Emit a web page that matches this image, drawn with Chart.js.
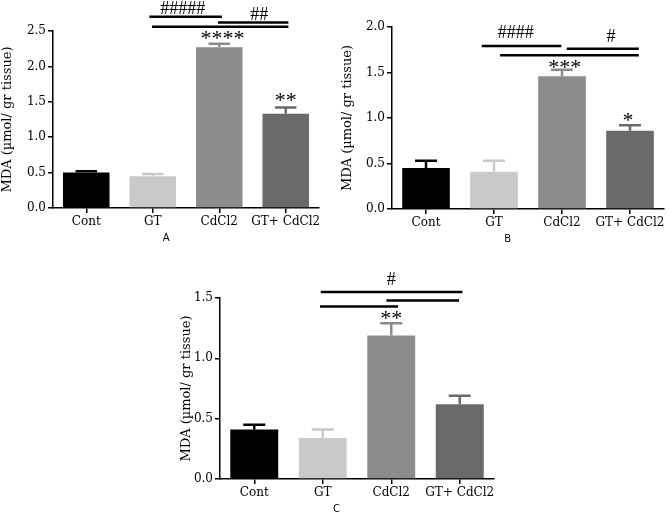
<!DOCTYPE html>
<html>
<head>
<meta charset="utf-8">
<script src="https://cdn.jsdelivr.net/npm/chart.js@4"></script>
<style>
  body { margin: 0; background: #fff; }
  #wrap { position: relative; width: 671px; height: 516px; overflow: hidden; }
  .panel { position: absolute; }
</style>
</head>
<body>
<div id="wrap">
  <div class="panel" style="left:0;top:0;width:335px;height:245px"><canvas id="chartA"></canvas></div>
  <div class="panel" style="left:335px;top:0;width:336px;height:245px"><canvas id="chartB"></canvas></div>
  <div class="panel" style="left:160px;top:250px;width:360px;height:266px"><canvas id="chartC"></canvas></div>
</div>
<script>
var categories = ['Cont', 'GT', 'CdCl2', 'GT+ CdCl2'];
var barColors = ['#000000', '#c9c9c9', '#8c8c8c', '#6a6a6a'];

// panel A
var mdaA = [0.50, 0.45, 2.27, 1.33];
var semA = [0.02, 0.03, 0.05, 0.09];
var ticksA = [0.0, 0.5, 1.0, 1.5, 2.0, 2.5];
// panel B
var mdaB = [0.45, 0.41, 1.46, 0.86];
var semB = [0.08, 0.12, 0.07, 0.06];
var ticksB = [0.0, 0.5, 1.0, 1.5, 2.0];
// panel C
var mdaC = [0.41, 0.34, 1.19, 0.62];
var semC = [0.04, 0.07, 0.10, 0.07];
var ticksC = [0.0, 0.5, 1.0, 1.5];

// significance bars: [from index, to index, value]
var linesA = [[0.95, 2.04, 2.70], [1.98, 3.04, 2.62], [0.99, 3.04, 2.56]];
var linesB = [[0.82, 1.99, 1.79], [2.07, 3.13, 1.76], [1.09, 3.13, 1.69]];
var linesC = [[0.97, 3.04, 1.55], [1.93, 2.99, 1.48], [0.96, 2.10, 1.43]];
// significance marks: [index, value, text]
var marksA = [[1.45, 2.81, '#####'], [2.60, 2.72, '##'], [2.05, 2.44, '****'], [3.0, 1.56, '**']];
var marksB = [[1.32, 1.93, '####'], [2.72, 1.89, '#'], [2.04, 1.59, '***'], [2.97, 1.01, '*']];
var marksC = [[2.0, 1.65, '#'], [2.0, 1.36, '**']];

var serif = 'DejaVu Serif';

var figure = {
	startUp: function () {
		figure.panel('chartA', mdaA, semA, ticksA, linesA, marksA, 'A', { left: 0, top: 31, right: 16, yWidth: 53, xHeight: 37 });
		figure.panel('chartB', mdaB, semB, ticksB, linesB, marksB, 'B', { left: 5, top: 27, right: 7, yWidth: 52, xHeight: 36 });
		figure.panel('chartC', mdaC, semC, ticksC, linesC, marksC, 'C', { left: 19, top: 48, right: 26, yWidth: 41, xHeight: 37 });
	}, // end - startUp

	errorBars: function (sem) {
		return {
			id: 'errorBars',
			afterDatasetsDraw: function (chart) {
				var ctx = chart.ctx;
				var meta = chart.getDatasetMeta(0);
				var y = chart.scales.y;
				var vals = chart.data.datasets[0].data;
				ctx.save();
				ctx.lineWidth = 2.5;
				for (var i = 0; i < meta.data.length; i++) {
					var bar = meta.data[i];
					var top = y.getPixelForValue(vals[i] + sem[i]);
					var half = bar.width * 0.23;
					ctx.strokeStyle = barColors[i];
					ctx.beginPath();
					ctx.moveTo(bar.x, bar.y);
					ctx.lineTo(bar.x, top);
					ctx.moveTo(bar.x - half, top);
					ctx.lineTo(bar.x + half, top);
					ctx.stroke();
				}
				ctx.restore();
			}
		};
	}, // end - errorBars

	sigMarks: function (lines, marks, letter) {
		return {
			id: 'sigMarks',
			afterDraw: function (chart) {
				var ctx = chart.ctx;
				var x = chart.scales.x;
				var y = chart.scales.y;
				ctx.save();
				ctx.strokeStyle = '#000';
				ctx.lineWidth = 2.5;
				for (var i = 0; i < lines.length; i++) {
					var py = y.getPixelForValue(lines[i][2]);
					ctx.beginPath();
					ctx.moveTo(x.getPixelForValue(lines[i][0]), py);
					ctx.lineTo(x.getPixelForValue(lines[i][1]), py);
					ctx.stroke();
				}
				ctx.fillStyle = '#000';
				ctx.textAlign = 'center';
				ctx.textBaseline = 'middle';
				for (var j = 0; j < marks.length; j++) {
					var txt = marks[j][2];
					var star = txt.charAt(0) == '*';
					ctx.font = star ? '22px "Liberation Serif"' : '18px "Liberation Serif"';
					ctx.fillText(txt, x.getPixelForValue(marks[j][0]), y.getPixelForValue(marks[j][1]) + (star ? 4 : 0));
				}
				ctx.font = '10px "DejaVu Sans"';
				ctx.fillText(letter, x.getPixelForValue(1.2), chart.chartArea.bottom + 30);
				ctx.restore();
			}
		};
	}, // end - sigMarks

	panel: function (id, values, sem, ticks, lines, marks, letter, box) {
		new Chart(id, {
			type: 'bar',
			data: {
				labels: categories,
				datasets: [{
					data: values,
					backgroundColor: barColors,
					borderWidth: 0,
					barPercentage: 0.7,
					categoryPercentage: 1
				}]
			},
			options: {
				responsive: true,
				maintainAspectRatio: false,
				animation: false,
				layout: { padding: { left: box.left, top: box.top, right: box.right, bottom: 0 } },
				plugins: { legend: { display: false }, tooltip: { enabled: false } },
				scales: {
					x: {
						grid: { display: true, drawOnChartArea: false, drawTicks: true, offset: false, tickLength: 5, color: '#000', lineWidth: 1.5 },
						border: { color: '#000', width: 1.5 },
						ticks: { color: '#000', font: { family: serif, size: 12 }, padding: 2, maxRotation: 0, autoSkip: false },
						afterFit: function (s) { s.height = box.xHeight; }
					},
					y: {
						min: ticks[0],
						max: ticks[ticks.length - 1],
						afterBuildTicks: function (s) {
							s.ticks = ticks.map(function (v) { return { value: v }; });
						},
						grid: { display: true, drawOnChartArea: false, drawTicks: true, tickLength: 5, color: '#000', lineWidth: 1.5 },
						border: { color: '#000', width: 1.5 },
						ticks: {
							color: '#000', font: { family: serif, size: 12 }, padding: 2,
							callback: function (v) { return Number(v).toFixed(1); }
						},
						title: {
							display: true, text: 'MDA (\u00b5mol/ gr tissue)', color: '#000',
							font: { family: serif, size: 13 }, padding: 0
						},
						afterFit: function (s) { s.width = box.yWidth; }
					}
				}
			},
			plugins: [figure.errorBars(sem), figure.sigMarks(lines, marks, letter)]
		});
	} // end - panel
};

figure.startUp();
</script>
</body>
</html>
